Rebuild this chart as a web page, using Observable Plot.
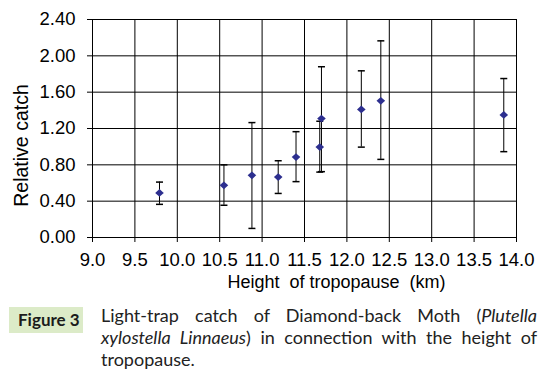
<!DOCTYPE html>
<html>
<head>
<meta charset="utf-8">
<script src="https://cdn.jsdelivr.net/npm/d3@7"></script>
<script src="https://cdn.jsdelivr.net/npm/@observablehq/plot@0.6"></script>
<style>
  html, body { margin: 0; padding: 0; background: #fff; }
  #wrap { position: relative; width: 547px; height: 378px; overflow: hidden; }
  #chart { position: absolute; left: 0; top: 0; }
  #figbox { position: absolute; left: 9px; top: 307px; width: 74px; height: 26px;
    background: #dcebc8; color: #1b1b1b; font-family: Lato, "Open Sans", sans-serif;
    font-weight: bold; font-size: 17px; line-height: 26px; padding-left: 9px; box-sizing: border-box; white-space: nowrap; }
  #caption { position: absolute; left: 101px; top: 304px; width: 436px;
    font-family: Lato, "Open Sans", sans-serif; font-size: 18px; line-height: 22px; color: #222; }
  #caption .j { text-align: justify; text-align-last: justify; white-space: nowrap; }
</style>
</head>
<body>
<div id="wrap">
  <div id="chart"></div>
  <div id="figbox">Figure 3</div>
  <div id="caption">
    <div class="j">Light-trap catch of Diamond-back Moth (<i>Plutella</i></div>
    <div class="j"><i>xylostella Linnaeus</i>) in connection with the height of</div>
    <div>tropopause.</div>
  </div>
</div>
<script>
const heights   = [9.79, 10.55, 10.88, 11.19, 11.40, 11.68, 11.70, 12.17, 12.40, 13.85];
const catchMean = [0.49, 0.575, 0.685, 0.665, 0.885, 0.995, 1.31, 1.41, 1.505, 1.35];
const catchLow  = [0.365, 0.355, 0.10, 0.485, 0.615, 0.72, 0.725, 0.995, 0.86, 0.945];
const catchHigh = [0.61, 0.80, 1.265, 0.845, 1.165, 1.28, 1.88, 1.835, 2.165, 1.75];
const xTicks = [9.0, 9.5, 10.0, 10.5, 11.0, 11.5, 12.0, 12.5, 13.0, 13.5, 14.0];
const yTicks = [0.0, 0.4, 0.8, 1.2, 1.6, 2.0, 2.4];
const xTitle = "Height  of tropopause  (km)";
const yTitle = "Relative catch";

const data = heights.map((h, i) => ({h, m: catchMean[i], lo: catchLow[i], hi: catchHigh[i]}));

const diamond = {draw(ctx, size) {
  const r = Math.sqrt(size / Math.PI);
  ctx.moveTo(0, -r * 0.9); ctx.lineTo(r, 0); ctx.lineTo(0, r * 0.9); ctx.lineTo(-r, 0); ctx.closePath();
}};
const cap = {draw(ctx, size) {
  const r = Math.sqrt(size / Math.PI);
  ctx.moveTo(-r, 0); ctx.lineTo(r, 0);
}};

const plot = Plot.plot({
  width: 547,
  height: 296,
  marginLeft: 92,
  marginRight: 31,
  marginTop: 19,
  marginBottom: 59,
  style: {fontFamily: "'Liberation Sans', Arial, sans-serif", fontSize: "18.5px", color: "#000", background: "#fff"},
  x: {domain: [9, 14], ticks: xTicks, tickSize: 5, tickPadding: 10, tickFormat: d => d.toFixed(1), label: null},
  y: {domain: [0, 2.4], ticks: yTicks, tickSize: 5, tickPadding: 12, tickFormat: d => d.toFixed(2), label: null},
  marks: [
    Plot.ruleX(xTicks, {x: d => d, y1: 0, y2: 2.4, stroke: "#000"}),
    Plot.ruleY(yTicks, {y: d => d, x1: 9, x2: 14, stroke: "#000"}),
    Plot.ruleX(data, {x: "h", y1: "lo", y2: "hi", stroke: "#000"}),
    Plot.dot(data, {x: "h", y: "lo", symbol: cap, r: 3.5, stroke: "#000", fill: "none"}),
    Plot.dot(data, {x: "h", y: "hi", symbol: cap, r: 3.5, stroke: "#000", fill: "none"}),
    Plot.dot(data, {x: "h", y: "m", symbol: diamond, r: 4.3, fill: "#2d2f8f", stroke: "none"}),
    Plot.text([xTitle], {text: d => d, frameAnchor: "bottom", textAnchor: "middle", lineAnchor: "middle", dx: 32, dy: 45, fontSize: 18}),
    Plot.text([yTitle], {text: d => d, frameAnchor: "left", textAnchor: "middle", lineAnchor: "middle", rotate: -90, dx: -71, dy: 17, fontSize: 19.5})
  ]
});
document.getElementById("chart").appendChild(plot);
</script>
</body>
</html>
